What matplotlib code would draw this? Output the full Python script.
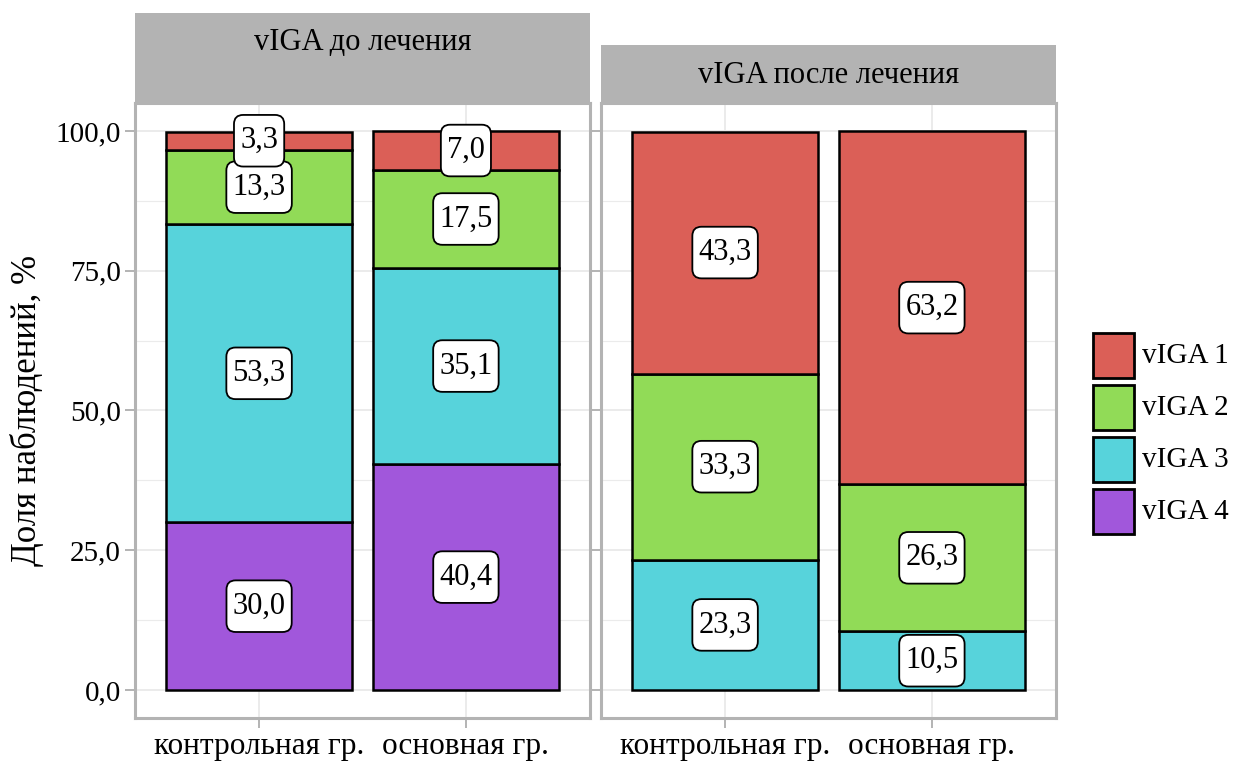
import matplotlib
matplotlib.use("Agg")
import matplotlib.pyplot as plt
from matplotlib.patches import Rectangle, BoxStyle
import numpy as np

plt.rcParams['font.family'] = ['Liberation Serif', 'DejaVu Serif']

# Data
periods = ["vIGA до лечения", "vIGA после лечения"]
groups = ["контрольная гр.", "основная гр."]
levels = ["vIGA 1", "vIGA 2", "vIGA 3", "vIGA 4"]
colors = ["#DB5F57", "#91DB57", "#57D3DB", "#A157DB"]

# percentages per level, per group (контрольная, основная)
before = {
    "vIGA 1": [3.3, 7.0],
    "vIGA 2": [13.3, 17.5],
    "vIGA 3": [53.3, 35.1],
    "vIGA 4": [30.0, 40.4],
}
after = {
    "vIGA 1": [43.3, 63.2],
    "vIGA 2": [33.3, 26.3],
    "vIGA 3": [23.3, 10.5],
    "vIGA 4": [0.0, 0.0],
}
yticks = [0, 25, 50, 75, 100]
ytick_labels = ["0,0", "25,0", "50,0", "75,0", "100,0"]

W, H = 1237, 765
fig = plt.figure(figsize=(W / 100, H / 100), dpi=100)
FS_TICK = 21
FS_XTICK = 22.5
FS_STRIP = 22
FS_YLAB = 25
FS_VAL = 22
FS_LEG = 21
grid_c = "#EBEBEB"
frame_c = "#B3B3B3"

_round = BoxStyle.Round(pad=0.2, rounding_size=0.3)


def label_box(x0, y0, width, height, mutation_size):
    # rounded label box with a little more room above and below the text
    extra = 0.17 * mutation_size
    return _round(x0, y0 - extra, width, height + 2 * extra, mutation_size)


def px_axes(x0, y0, x1, y1):
    return fig.add_axes([x0 / W, 1 - y1 / H, (x1 - x0) / W, (y1 - y0) / H])


def draw_panel(ax, data, show_y):
    ax.set_xlim(0.4, 2.6)
    ax.set_ylim(-5, 105)
    ax.set_facecolor("white")
    for y in np.arange(12.5, 100, 25):
        ax.axhline(y, color=grid_c, lw=0.8, zorder=0)
    for y in yticks:
        ax.axhline(y, color=grid_c, lw=1.4, zorder=0)
    for x in [1, 2]:
        ax.axvline(x, color=grid_c, lw=1.4, zorder=0)
    x = np.array([1, 2])
    # stack from the bottom: vIGA 4 first
    bottom = np.zeros(2)
    for lev, col in zip(levels[::-1], colors[::-1]):
        vals = np.array(data[lev])
        for i in range(2):
            if vals[i] > 0:
                ax.bar(x[i], vals[i], bottom=bottom[i], width=0.9, color=col,
                       edgecolor="black", linewidth=1.8, zorder=2)
                ax.text(x[i], bottom[i] + vals[i] / 2, f"{vals[i]:.1f}".replace(".", ","),
                        ha="center", va="center", fontsize=FS_VAL, zorder=4,
                        bbox=dict(boxstyle=label_box, fc="white", ec="black", lw=1.3))
        bottom = bottom + vals
    ax.set_xticks([1, 2])
    ax.set_xticklabels(groups, fontsize=FS_XTICK)
    ax.set_yticks(yticks)
    if show_y:
        ax.set_yticklabels(ytick_labels, fontsize=FS_TICK)
    else:
        ax.set_yticklabels([])
        ax.tick_params(axis="y", length=0)
    ax.tick_params(axis="both", color=frame_c, width=1.4, length=7, pad=3)
    for s in ax.spines.values():
        s.set_color(frame_c)
        s.set_linewidth(2.2)


# left panel and strip
ax1 = px_axes(135, 103, 590, 718)
draw_panel(ax1, before, True)
ax1.set_ylabel("Доля наблюдений, %", fontsize=FS_YLAB)
ax1.yaxis.set_label_coords(-(135 - 44) / 455, (718 - 410) / 615)
s1 = px_axes(135, 13, 590, 103)
s1.set_facecolor(frame_c)
s1.set_xticks([]); s1.set_yticks([])
for s in s1.spines.values():
    s.set_visible(False)
s1.text(0.5, 1 - (43 - 13) / 90, periods[0], transform=s1.transAxes,
        ha="center", va="center", fontsize=FS_STRIP)

# right panel and strip
ax2 = px_axes(601, 103, 1056, 718)
draw_panel(ax2, after, False)
s2 = px_axes(601, 45, 1056, 103)
s2.set_facecolor(frame_c)
s2.set_xticks([]); s2.set_yticks([])
for s in s2.spines.values():
    s.set_visible(False)
s2.text(0.5, 0.48, periods[1], transform=s2.transAxes,
        ha="center", va="center", fontsize=FS_STRIP)

# legend
for i, (lev, col) in enumerate(zip(levels, colors)):
    y0 = 333 + i * 52
    fig.patches.append(Rectangle((1093 / W, 1 - (y0 + 45) / H), 41 / W, 45 / H,
                                 transform=fig.transFigure, facecolor=col,
                                 edgecolor="black", linewidth=2))
    fig.text(1142 / W, 1 - (y0 + 23) / H, lev, ha="left", va="center", fontsize=FS_LEG)

fig.savefig("out.png", dpi=100)
